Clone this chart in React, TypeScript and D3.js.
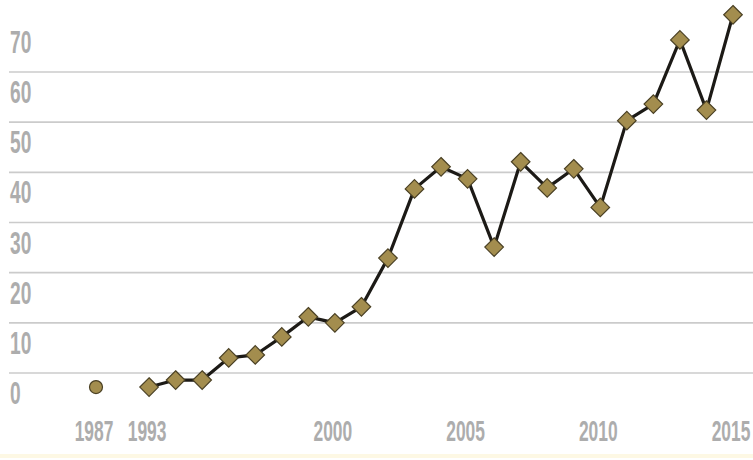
import React from "react";
import * as d3 from "d3";

const categories = ["1987", "", "1993", "1994", "1995", "1996", "1997", "1998", "1999", "2000", "2001", "2002", "2003", "2004", "2005", "2006", "2007", "2008", "2009", "2010", "2011", "2012", "2013", "2014", "2015"];
const earlyYear = ["1987"];
const earlyValue = [2.2];
const years = ["1993", "1994", "1995", "1996", "1997", "1998", "1999", "2000", "2001", "2002", "2003", "2004", "2005", "2006", "2007", "2008", "2009", "2010", "2011", "2012", "2013", "2014", "2015"];
const values = [2.2, 3.6, 3.6, 8.0, 8.6, 12.2, 16.2, 15.0, 18.2, 27.9, 41.7, 46.1, 43.7, 30.1, 47.1, 41.9, 45.7, 38.0, 55.3, 58.6, 71.4, 57.4, 76.4];
const yTickLabels = [0, 10, 20, 30, 40, 50, 60, 70];
const gridValues = [5, 15, 25, 35, 45, 55, 65];
const xTickLabels = ["1987", "1993", "2000", "2005", "2010", "2015"];

const W = 753;
const H = 460;

export default function App() {
  const x = d3.scalePoint<string>().domain(categories).range([96, 733]);
  const y = d3.scaleLinear().domain([0, 70]).range([398.1, 46.9]);
  const line = d3
    .line<number>()
    .x((_, i) => x(years[i]) as number)
    .y((d) => y(d));
  const diamond = d3.symbol().type(d3.symbolDiamond2).size(220)();
  const labelFont = "'Liberation Sans', Arimo, sans-serif";
  const textColor = "#adadad";

  return (
    <svg width={W} height={H} style={{ position: "absolute", left: 0, top: 0, background: "#fff" }}>
      <rect x={0} y={454} width={W} height={4} fill="#fdf8e4" />
      {gridValues.map((g) => (
        <line key={g} x1={9} x2={W} y1={y(g)} y2={y(g)} stroke="#cbcbcb" strokeWidth={1.6} />
      ))}
      {yTickLabels.map((t) => (
        <text
          key={t}
          transform={`translate(10,${y(t) + 6}) scale(0.6,1)`}
          fontFamily={labelFont}
          fontWeight="bold"
          fontSize={32}
          fill={textColor}
        >
          {t}
        </text>
      ))}
      {xTickLabels.map((t) => (
        <text
          key={t}
          transform={`translate(${(x(t) as number) - 2},441) scale(0.6,1)`}
          textAnchor="middle"
          fontFamily={labelFont}
          fontWeight="bold"
          fontSize={29}
          fill={textColor}
        >
          {t}
        </text>
      ))}
      <path d={line(values) || ""} fill="none" stroke="#1c1a16" strokeWidth={3.2} strokeLinejoin="round" />
      {earlyYear.map((yr, i) => (
        <circle key={yr} cx={x(yr) as number} cy={y(earlyValue[i])} r={6.5} fill="#a38d4e" stroke="#4a4024" strokeWidth={1.2} />
      ))}
      {values.map((v, i) => (
        <path
          key={years[i]}
          d={diamond || ""}
          transform={`translate(${x(years[i])},${y(v)})`}
          fill="#a38d4e"
          stroke="#4a4024"
          strokeWidth={1.2}
        />
      ))}
    </svg>
  );
}
